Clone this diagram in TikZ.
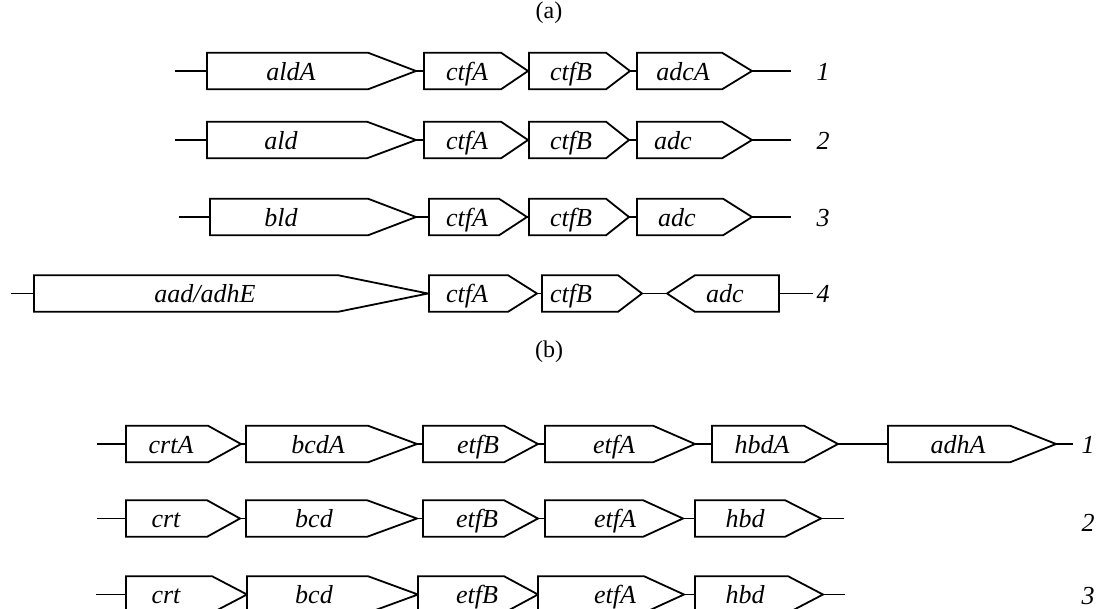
\documentclass[tikz,border=0pt]{standalone}
\usepackage{fontspec}
\setmainfont{Liberation Serif}
\tikzset{
  genebox/.style={draw, line width=1.8pt, fill=white, line join=miter},
  genetxt/.style={font=\fontsize{26}{30}\selectfont\itshape, inner sep=0pt, text height=20pt, text depth=2pt},
  link/.style={line width=1.8pt},
  rownum/.style={font=\fontsize{26}{30}\selectfont\itshape, inner sep=0pt, text height=20pt, text depth=2pt},
  panel/.style={font=\fontsize{24}{28}\selectfont, inner sep=0pt}
}
% forward gene: id, left x, corner x, tip x, y, text x, label
\newcommand\gene[7]{%
  \draw[genebox] (#2,#5-18.3) -- (#3,#5-18.3) -- (#4,#5) -- (#3,#5+18.3) -- (#2,#5+18.3) -- cycle;
  \coordinate (#1-w) at (#2,#5);
  \coordinate (#1-e) at (#4,#5);
  \node[genetxt] (#1) at (#6,#5) {#7};}
% reverse gene: id, tip x, corner x, right x, y, text x, label
\newcommand\rgene[7]{%
  \draw[genebox] (#2,#5) -- (#3,#5-18.3) -- (#4,#5-18.3) -- (#4,#5+18.3) -- (#3,#5+18.3) -- cycle;
  \coordinate (#1-w) at (#2,#5);
  \coordinate (#1-e) at (#4,#5);
  \node[genetxt] (#1) at (#6,#5) {#7};}
\begin{document}
\begin{tikzpicture}[x=1pt,y=-1pt]
\useasboundingbox (0,0) rectangle (1099,608);
\clip (0,0) rectangle (1099,608);

\node[panel] (pa) at (549,13) {(a)};
\node[panel] (pb) at (549,352) {(b)};

% ---- (a) row 1
\coordinate (a1s) at (175,71);
\gene{a1g1}{207}{368}{416}{71}{291}{aldA}
\gene{a1g2}{424}{501}{528}{71}{467}{ctfA}
\gene{a1g3}{529}{606}{630}{71}{571}{ctfB}
\gene{a1g4}{637}{722}{752}{71}{683}{adcA}
\coordinate (a1t) at (791,71);
\node[rownum] (a1n) at (823,71) {1};
\draw[link] (a1s) -- (a1g1-w) (a1g1-e) -- (a1g2-w) (a1g2-e) -- (a1g3-w) (a1g3-e) -- (a1g4-w) (a1g4-e) -- (a1t);

% ---- (a) row 2
\coordinate (a2s) at (175,140);
\gene{a2g1}{207}{367}{416}{140}{281}{ald}
\gene{a2g2}{424}{501}{528}{140}{467}{ctfA}
\gene{a2g3}{529}{606}{629}{140}{571}{ctfB}
\gene{a2g4}{637}{722}{752}{140}{673}{adc}
\coordinate (a2t) at (791,140);
\node[rownum] (a2n) at (823,140) {2};
\draw[link] (a2s) -- (a2g1-w) (a2g1-e) -- (a2g2-w) (a2g2-e) -- (a2g3-w) (a2g3-e) -- (a2g4-w) (a2g4-e) -- (a2t);

% ---- (a) row 3
\coordinate (a3s) at (179,217);
\gene{a3g1}{210}{368}{416}{217}{281}{bld}
\gene{a3g2}{429}{499}{527}{217}{467}{ctfA}
\gene{a3g3}{529}{606}{629}{217}{571}{ctfB}
\gene{a3g4}{637}{723}{752}{217}{677}{adc}
\coordinate (a3t) at (791,217);
\node[rownum] (a3n) at (823,217) {3};
\draw[link] (a3s) -- (a3g1-w) (a3g1-e) -- (a3g2-w) (a3g2-e) -- (a3g3-w) (a3g3-e) -- (a3g4-w) (a3g4-e) -- (a3t);

% ---- (a) row 4
\coordinate (a4s) at (11,293.5);
\gene{a4g1}{34}{338}{428}{293.5}{205}{aad/adhE}
\gene{a4g2}{429}{508}{537}{293.5}{467}{ctfA}
\gene{a4g3}{542}{618}{642}{293.5}{571}{ctfB}
\rgene{a4g4}{667}{695}{779}{293.5}{725}{adc}
\coordinate (a4t) at (813,293.5);
\node[rownum] (a4n) at (823,293.5) {4};
\draw[link] (a4s) -- (a4g1-w) (a4g1-e) -- (a4g2-w) (a4g2-e) -- (a4g3-w) (a4g3-e) -- (a4g4-w) (a4g4-e) -- (a4t);

% ---- (b) row 1
\coordinate (b1s) at (97,444);
\gene{b1g1}{126}{208}{241}{444}{171}{crtA}
\gene{b1g2}{246}{368}{417}{444}{318}{bcdA}
\gene{b1g3}{423}{504}{538}{444}{478}{etfB}
\gene{b1g4}{545}{653}{695}{444}{614}{etfA}
\gene{b1g5}{712}{804}{838}{444}{762}{hbdA}
\gene{b1g6}{888}{1010}{1056}{444}{958}{adhA}
\coordinate (b1t) at (1073,444);
\node[rownum] (b1n) at (1088,444) {1};
\draw[link] (b1s) -- (b1g1-w) (b1g1-e) -- (b1g2-w) (b1g2-e) -- (b1g3-w) (b1g3-e) -- (b1g4-w) (b1g4-e) -- (b1g5-w) (b1g5-e) -- (b1g6-w) (b1g6-e) -- (b1t);

% ---- (b) row 2
\coordinate (b2s) at (97,518.5);
\gene{b2g1}{126}{207}{240}{518.5}{166}{crt}
\gene{b2g2}{246}{367}{417}{518.5}{314}{bcd}
\gene{b2g3}{423}{504}{538}{518.5}{477}{etfB}
\gene{b2g4}{545}{643}{683}{518.5}{615}{etfA}
\gene{b2g5}{695}{785}{821}{518.5}{745}{hbd}
\coordinate (b2t) at (844,518.5);
\node[rownum] (b2n) at (1088,522) {2};
\draw[link] (b2s) -- (b2g1-w) (b2g1-e) -- (b2g2-w) (b2g2-e) -- (b2g3-w) (b2g3-e) -- (b2g4-w) (b2g4-e) -- (b2g5-w) (b2g5-e) -- (b2t);

% ---- (b) row 3
\coordinate (b3s) at (96,594.5);
\gene{b3g1}{126}{212}{247}{594.5}{166}{crt}
\gene{b3g2}{247}{368}{418}{594.5}{314}{bcd}
\gene{b3g3}{418}{504}{538}{594.5}{477}{etfB}
\gene{b3g4}{538}{644}{684}{594.5}{615}{etfA}
\gene{b3g5}{695}{788}{823}{594.5}{745}{hbd}
\coordinate (b3t) at (845,594.5);
\node[rownum] (b3n) at (1088,595) {3};
\draw[link] (b3s) -- (b3g1-w) (b3g1-e) -- (b3g2-w) (b3g2-e) -- (b3g3-w) (b3g3-e) -- (b3g4-w) (b3g4-e) -- (b3g5-w) (b3g5-e) -- (b3t);
\end{tikzpicture}
\end{document}
